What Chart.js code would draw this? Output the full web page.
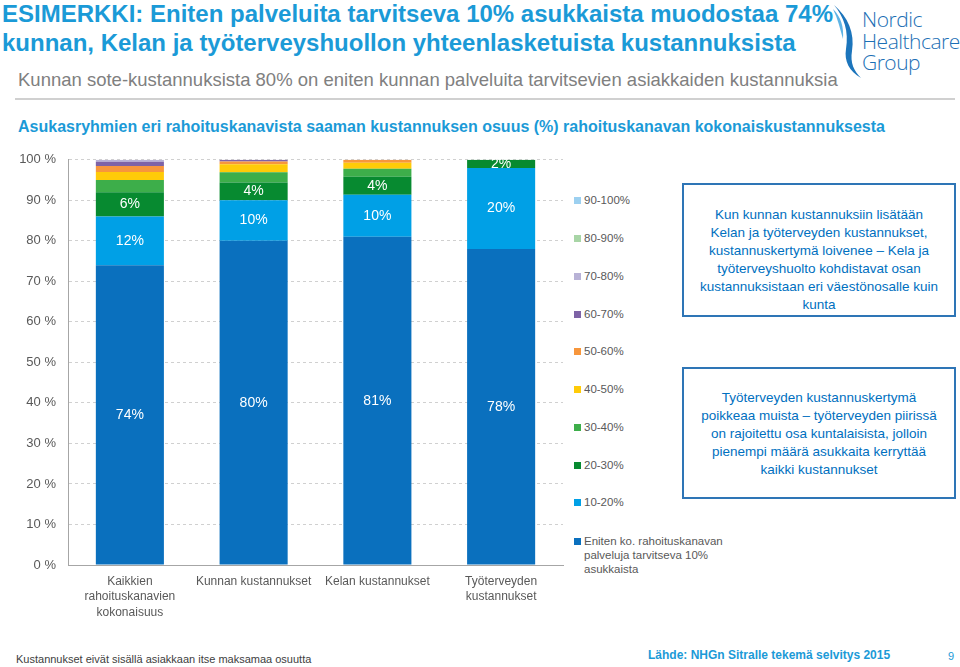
<!DOCTYPE html>
<html lang="fi">
<head>
    <meta charset="UTF-8" />
    <title>Kustannuskertymä rahoituskanavittain</title>
    <script src="https://cdn.jsdelivr.net/npm/chart.js"></script>
    <style>
        body { margin: 0; width: 960px; height: 667px; position: relative; background: #fff; font-family: "Liberation Sans", Arial, sans-serif; overflow: hidden; }
        .abs { position: absolute; white-space: nowrap; }
        #title { left: 2px; top: -1px; font-size: 24px; font-weight: bold; color: #1B9AD7; line-height: 29px; }
        #subtitle { left: 18px; top: 69px; font-size: 18.5px; color: #808080; }
        #rule { left: 15px; top: 98px; width: 940px; height: 0; border-top: 2px solid #D0D0D0; }
        #heading { left: 18px; top: 118px; font-size: 16px; font-weight: bold; color: #1B9AD7; }
        #chartWrap { left: 0; top: 140px; width: 570px; height: 500px; }
        #legend { left: 574px; top: 0; }
        .item { position: absolute; left: 0; font-size: 11.5px; color: #595959; white-space: nowrap; line-height: 14px; }
        .item i { position: absolute; left: 0; top: 4px; width: 7px; height: 7px; }
        .item span { position: absolute; left: 10px; top: 0; }
        .box { position: absolute; border: 2px solid #2E75B6; color: #0070C0; font-size: 13.5px; line-height: 18px; text-align: center; box-sizing: border-box; }
        #logo { left: 862px; top: 9px; font-size: 21px; line-height: 21.5px; color: #1C6FB5; font-weight: 300; font-family: "Open Sans", sans-serif; letter-spacing: -0.5px; }
        #footL { left: 16px; top: 653px; font-size: 11px; color: #404040; }
        #footR { left: 648px; top: 648px; font-size: 12px; font-weight: bold; color: #1B9AD7; }
        #page { left: 948px; top: 650px; font-size: 11px; color: #1B9AD7; }
    </style>
</head>
<body>
    <div id="title" class="abs">ESIMERKKI: Eniten palveluita tarvitseva 10% asukkaista muodostaa 74%<br>kunnan, Kelan ja työterveyshuollon yhteenlasketuista kustannuksista</div>
    <svg class="abs" style="left:832px;top:3px" width="32" height="76" viewBox="0 0 32 76">
        <path d="M2 2 C16 14 23 30 20 48 C18 60 22 68 29 75 C17 68 12 58 14 46 C17 28 12 14 2 2 Z" fill="#1C75BC" />
        <path d="M1 6 C9 14 12 24 11 36 C8 26 6 16 1 6 Z" fill="#5FB4E5" />
    </svg>
    <div id="logo" class="abs">Nordic<br>Healthcare<br>Group</div>
    <div id="subtitle" class="abs">Kunnan sote-kustannuksista 80% on eniten kunnan palveluita tarvitsevien asiakkaiden kustannuksia</div>
    <div id="rule" class="abs"></div>
    <div id="heading" class="abs">Asukasryhmien eri rahoituskanavista saaman kustannuksen osuus (%) rahoituskanavan kokonaiskustannuksesta</div>

    <div id="chartWrap" class="abs"><canvas id="chart" width="570" height="500"></canvas></div>
    <div id="legend" class="abs"></div>

    <div class="box" style="left:682px;top:183px;width:274px;height:134px;padding-top:21px">Kun kunnan kustannuksiin lisätään<br>Kelan ja työterveyden kustannukset,<br>kustannuskertymä loivenee – Kela ja<br>työterveyshuolto kohdistavat osan<br>kustannuksistaan eri väestönosalle kuin<br>kunta</div>
    <div class="box" style="left:682px;top:367px;width:274px;height:132px;padding-top:20px">Työterveyden kustannuskertymä<br>poikkeaa muista – työterveyden piirissä<br>on rajoitettu osa kuntalaisista, jolloin<br>pienempi määrä asukkaita kerryttää<br>kaikki kustannukset</div>

    <div id="footL" class="abs">Kustannukset eivät sisällä asiakkaan itse maksamaa osuutta</div>
    <div id="footR" class="abs">Lähde: NHGn Sitralle tekemä selvitys 2015</div>
    <div id="page" class="abs">9</div>

    <script>
        const categories = [
            ["Kaikkien", "rahoituskanavien", "kokonaisuus"],
            "Kunnan kustannukset",
            "Kelan kustannukset",
            ["Työterveyden", "kustannukset"]
        ];

        // osuus (%) kustakin rahoituskanavasta, asukasryhmittäin (kymmenykset)
        const top10   = [74, 80, 81, 78];
        const d10_20  = [12, 10, 10.4, 20];
        const d20_30  = [6, 4.4, 4.4, 2];
        const d30_40  = [3, 2.5, 2, 0];
        const d40_50  = [2, 2, 1.5, 0];
        const d50_60  = [1.5, 0.7, 0.7, 0];
        const d60_70  = [1, 0.4, 0, 0];
        const d70_80  = [0.5, 0, 0, 0];
        const d80_90  = [0, 0, 0, 0];
        const d90_100 = [0, 0, 0, 0];

        const seriesNames = [
            "Eniten ko. rahoituskanavan palveluja tarvitseva 10% asukkaista",
            "10-20%", "20-30%", "30-40%", "40-50%", "50-60%",
            "60-70%", "70-80%", "80-90%", "90-100%"
        ];
        const seriesValues = [top10, d10_20, d20_30, d30_40, d40_50, d50_60, d60_70, d70_80, d80_90, d90_100];
        const seriesColors = ["#0A70BE", "#00A0E6", "#078A30", "#3DAE4A", "#FFCB08", "#F7963C", "#7E63A6", "#B8B2D6", "#A8D5A6", "#9CD0F0"];
        const labelled = [0, 1, 2]; // segments with value labels

        const datasets = seriesNames.map((name, i) => ({
            label: name,
            data: seriesValues[i],
            backgroundColor: seriesColors[i],
            borderWidth: 0,
            barPercentage: 0.55,
            categoryPercentage: 1
        }));

        const valueLabels = {
            id: "valueLabels",
            afterDatasetsDraw(chart) {
                const ctx = chart.ctx;
                ctx.save();
                ctx.fillStyle = "#fff";
                ctx.font = "14px 'Liberation Sans', Arial, sans-serif";
                ctx.textAlign = "center";
                ctx.textBaseline = "middle";
                labelled.forEach(di => {
                    chart.getDatasetMeta(di).data.forEach((bar, j) => {
                        const v = chart.data.datasets[di].data[j];
                        if (!v) return;
                        ctx.fillText(Math.round(v) + "%", bar.x, (bar.y + bar.base) / 2);
                    });
                });
                ctx.restore();
            }
        };

        new Chart(document.getElementById("chart"), {
            type: "bar",
            data: { labels: categories, datasets: datasets },
            options: {
                responsive: false,
                animation: false,
                layout: { padding: { top: 19, right: 7, left: 0, bottom: 0 } },
                plugins: { legend: { display: false }, tooltip: { enabled: false } },
                scales: {
                    x: {
                        stacked: true,
                        grid: { display: false },
                        border: { color: "#A6A6A6", width: 1 },
                        ticks: {
                            color: "#595959",
                            font: { family: "'Liberation Sans', Arial, sans-serif", size: 12, lineHeight: 1.28 },
                            padding: 1,
                            maxRotation: 0,
                            autoSkip: false
                        },
                        afterFit(scale) { scale.height = 75; }
                    },
                    y: {
                        stacked: true,
                        min: 0,
                        max: 100,
                        grid: { color: "#D0D0D0", drawTicks: false },
                        border: { color: "#A6A6A6", width: 1, dash: [3, 3] },
                        ticks: {
                            stepSize: 10,
                            color: "#595959",
                            font: { family: "'Liberation Sans', Arial, sans-serif", size: 13 },
                            padding: 12,
                            callback: v => v + " %"
                        },
                        afterFit(scale) { scale.width = 68; }
                    }
                }
            },
            plugins: [valueLabels]
        });

        // legend, top entry first
        const legendTops = [193, 231, 269, 307, 344, 382, 420, 458, 495, 534];
        const legend = document.getElementById("legend");
        const order = [9, 8, 7, 6, 5, 4, 3, 2, 1, 0];
        order.forEach((si, k) => {
            const it = document.createElement("div");
            it.className = "item";
            it.style.top = legendTops[k] + "px";
            const text = si === 0
                ? "Eniten ko. rahoituskanavan<br>palveluja tarvitseva 10%<br>asukkaista"
                : seriesNames[si];
            it.innerHTML = `<i style="background:${seriesColors[si]}"></i><span>${text}</span>`;
            legend.appendChild(it);
        });
    </script>
</body>
</html>
